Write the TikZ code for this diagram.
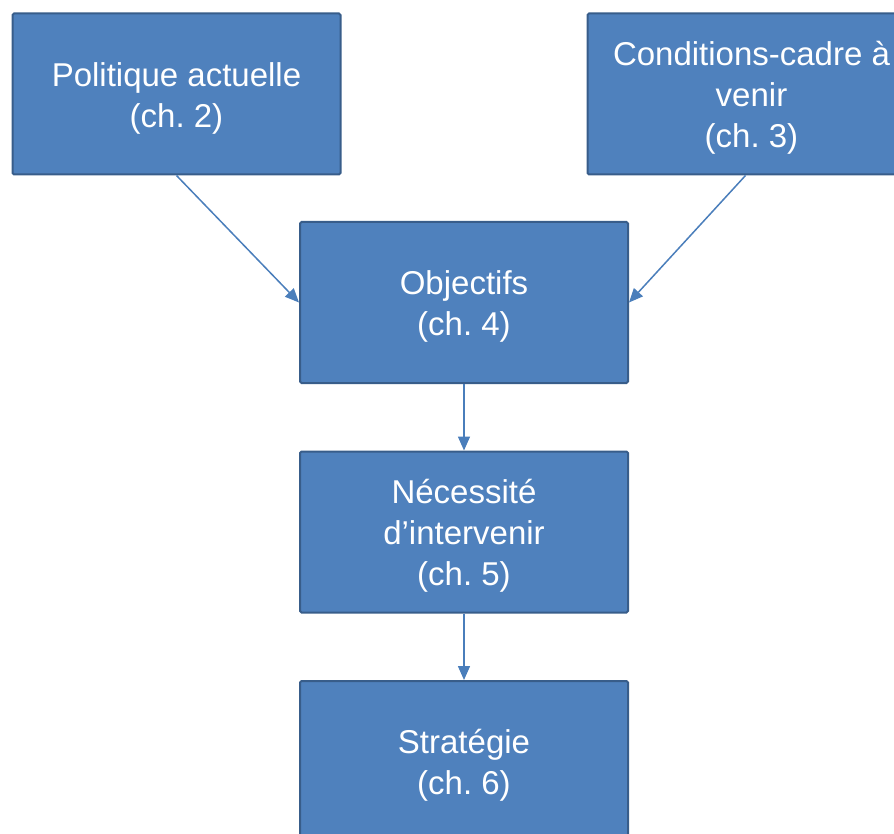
\documentclass[tikz,border=0pt]{standalone}
\usepackage{fontspec}
\setmainfont{Liberation Sans}
\frenchspacing
\usetikzlibrary{arrows.meta}
\definecolor{boxfill}{HTML}{4F81BD}
\definecolor{boxline}{HTML}{385D8A}
\definecolor{linkblue}{HTML}{4A7EBB}
\tikzset{
  chapter/.style={rectangle, draw=boxline, line width=2pt, fill=boxfill,
    rounded corners=1.5pt, minimum width=328pt, minimum height=161pt,
    inner sep=0pt},
  chaptext/.style={text=white, align=center, inner sep=0pt, yshift=-4pt,
    font=\fontsize{33}{41}\selectfont},
  link/.style={draw=linkblue, line width=1.5pt,
    -{Triangle[length=14pt,width=12pt]}}
}
\begin{document}
\begin{tikzpicture}[x=1pt,y=-1pt]
  \useasboundingbox (0,0) rectangle (894,834);
  \clip (0,0) rectangle (894,834);
  \node[chapter, label={[chaptext]center:Politique actuelle\\(ch. 2)}] (pol) at (176.5,94) {};
  \node[chapter, label={[chaptext]center:Conditions-cadre à\\venir\\(ch. 3)}] (cond) at (751.5,94) {};
  \node[chapter, label={[chaptext]center:Objectifs\\(ch. 4)}] (obj) at (464,302.5) {};
  \node[chapter, label={[chaptext]center:Nécessité\\d’intervenir\\(ch. 5)}] (nec) at (464,532) {};
  \node[chapter, label={[chaptext]center:Stratégie\\(ch. 6)}] (strat) at (464,761.5) {};
  \draw[link] (pol.south) -- (obj.west);
  \draw[link] ([xshift=-6pt]cond.south) -- (obj.east);
  \draw[link] (obj.south) -- (nec.north);
  \draw[link] (nec.south) -- (strat.north);
\end{tikzpicture}
\end{document}
